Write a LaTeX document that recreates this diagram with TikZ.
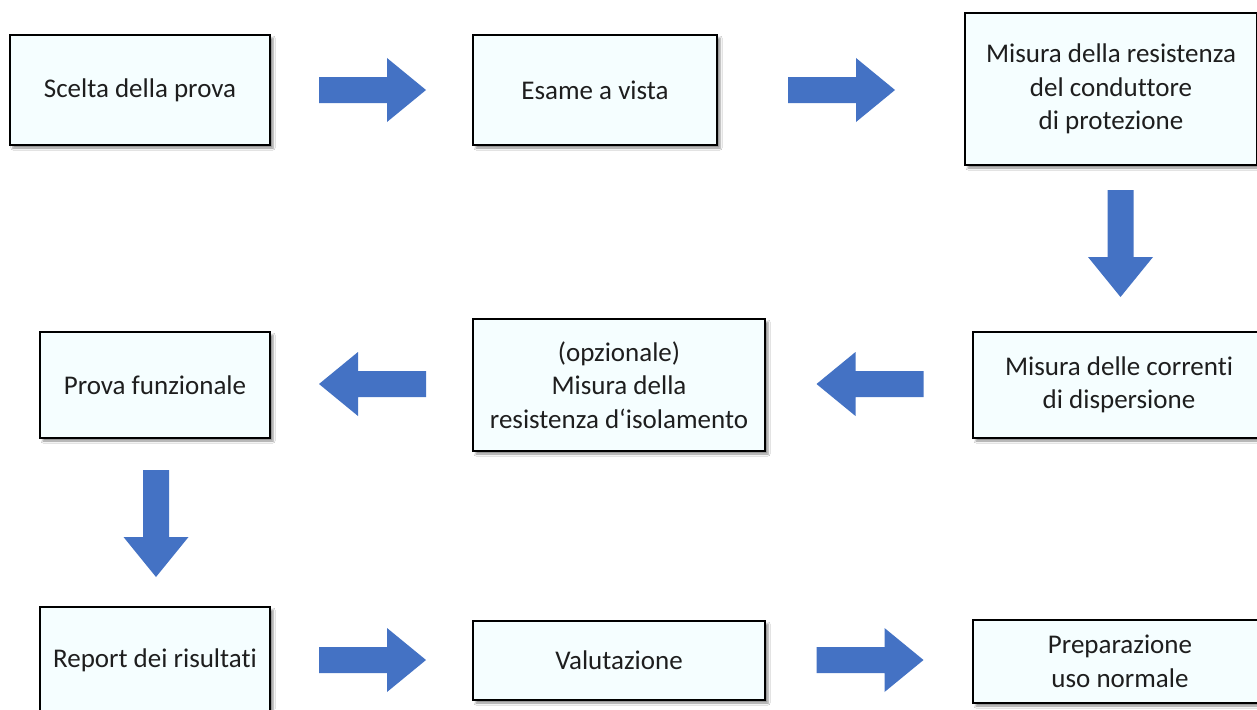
\documentclass[tikz,border=0pt]{standalone}
\usepackage{fontspec}
\setmainfont{Carlito}[Ligatures={NoCommon}]
\usetikzlibrary{shadows.blur}
\definecolor{boxfill}{HTML}{F5FEFF}
\definecolor{arrowblue}{HTML}{4472C4}
\definecolor{txt}{HTML}{1E1E1E}
\begin{document}
\begin{tikzpicture}[x=1pt,y=-1pt,
  stepbox/.style={draw=black, line width=1.6pt, fill=boxfill, text=txt,
    align=center, inner sep=0pt, font=\fontsize{27}{33.5}\selectfont,
    blur shadow={shadow xshift=3pt, shadow yshift=-3pt, shadow blur steps=4, shadow opacity=45, shadow blur radius=2pt}},
  arrR/.pic={\fill[arrowblue] (-53.5,-13) -- (14.5,-13) -- (14.5,-32) -- (53.5,0) -- (14.5,32) -- (14.5,13) -- (-53.5,13) -- cycle;},
  arrL/.pic={\fill[arrowblue] (53.5,-13) -- (-14.5,-13) -- (-14.5,-32) -- (-53.5,0) -- (-14.5,32) -- (-14.5,13) -- (53.5,13) -- cycle;},
  arrD/.pic={\fill[arrowblue] (-13,-53.5) -- (-13,13.5) -- (-32.5,13.5) -- (0,53.5) -- (32.5,13.5) -- (13,13.5) -- (13,-53.5) -- cycle;}
]
\useasboundingbox (0,0) rectangle (1257,709);
\fill[white] (0,0) rectangle (1257,709);
% row 1
\node[stepbox, minimum width=260, minimum height=110] (scelta) at (140,90) {Scelta della prova};
\node[stepbox, minimum width=244, minimum height=110] (esame) at (595,90) {Esame a vista};
\node[stepbox, minimum width=292, minimum height=152] (condutt) at (1111,89) {Misura della resistenza\\del conduttore\\di protezione};
% row 2
\node[stepbox, minimum width=292, minimum height=106] (correnti) at (1119,385) {Misura delle correnti\\di dispersione};
\node[stepbox, minimum width=292, minimum height=132] (isol) at (619,385) {(opzionale)\\Misura della\\resistenza d‘isolamento};
\node[stepbox, minimum width=230, minimum height=106] (funz) at (155,385) {Prova funzionale};
% row 3
\node[stepbox, minimum width=230, minimum height=106] (report) at (155,660) {Report dei risultati};
\node[stepbox, minimum width=292, minimum height=79] (valut) at (619,660.5) {Valutazione};
\node[stepbox, minimum width=294, minimum height=83] (prep) at (1120,661.5) {Preparazione\\uso normale};
% arrows
\pic at (372.5,90) {arrR};
\pic at (841.5,90) {arrR};
\pic at (1120.5,243.5) {arrD};
\pic at (870,384) {arrL};
\pic at (372.5,384) {arrL};
\pic at (156,523.5) {arrD};
\pic at (372.5,660) {arrR};
\pic at (870,660) {arrR};
\end{tikzpicture}
\end{document}
